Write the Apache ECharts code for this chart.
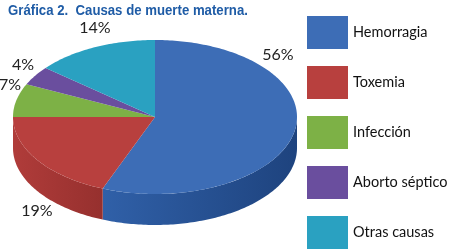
<!DOCTYPE html>
<html>
<head>
<meta charset="utf-8">
<script src="https://cdn.jsdelivr.net/npm/echarts@6/dist/echarts.min.js"></script>
<style>
  html, body { margin: 0; padding: 0; background: #fff; }
  #chart { width: 450px; height: 252px; }
</style>
</head>
<body>
<div id="chart"></div>
<script>
  // datos de la gráfica
  const categories = ['Hemorragia', 'Toxemia', 'Infección', 'Aborto séptico', 'Otras causas'];
  const percents = [56, 19, 7, 4, 14];

  // estilos
  const topColors = ['#3D6DB6', '#B8403E', '#7DB146', '#6A4E9E', '#2AA1C1'];
  const sideColors = [['#3060A8', '#1E437E'], ['#B03C3A', '#96302E'], ['#6C9A3A', '#5C8530'], ['#594088', '#4A3472'], ['#2289A6', '#1B7088']];
  const labelPos = [[278, 55], [37, 211], [10, 85], [23, 65], [95, 28]];
  const CX = 155, CY = 117, RX = 142, RY = 77, DEPTH = 31;

  const total = percents.reduce((a, b) => a + b, 0);

  function pt(deg, dy) {
    const r = deg * Math.PI / 180;
    return [CX + RX * Math.cos(r), CY - RY * Math.sin(r) + (dy || 0)];
  }
  function arc(from, to, dy) {
    const pts = [];
    const n = Math.max(2, Math.ceil(Math.abs(to - from)));
    for (let k = 0; k <= n; k++) pts.push(pt(from + (to - from) * k / n, dy));
    return pts;
  }

  function renderItem(params, api) {
    const i = params.seriesIndex;
    const v = api.value(0);
    let cum = 0;
    for (let k = 0; k < i; k++) cum += percents[k];
    const t0 = 90 - 360 * cum / total;
    const t1 = 90 - 360 * (cum + v) / total;
    const children = [];

    // cara lateral (sólo la mitad frontal)
    const lo = Math.max(t1, -180), hi = Math.min(t0, 0);
    if (lo < hi) {
      const top = arc(hi, lo, 0);
      const bottom = arc(lo, hi, DEPTH);
      children.push({
        type: 'polygon',
        z2: 1,
        shape: { points: top.concat(bottom) },
        style: {
          fill: new echarts.graphic.LinearGradient(0, 0, 1, 0, [
            { offset: 0, color: sideColors[i][0] },
            { offset: 1, color: sideColors[i][1] }
          ])
        }
      });
    }

    // cara superior
    children.push({
      type: 'polygon',
      z2: 10,
      shape: { points: [[CX, CY]].concat(arc(t0, t1, 0)) },
      style: { fill: topColors[i] }
    });

    children.push({
      type: 'text',
      z2: 20,
      style: {
        x: labelPos[i][0], y: labelPos[i][1],
        text: v + '%',
        fill: '#222',
        font: '16px Lato',
        align: 'center', verticalAlign: 'middle'
      }
    });
    return { type: 'group', children: children };
  }

  const chart = echarts.init(document.getElementById('chart'));
  chart.setOption({
    animation: false,
    graphic: [{
      type: 'text',
      left: 8, top: 3,
      scaleX: 0.88,
      style: {
        text: 'Gráfica 2.  Causas de muerte materna.',
        font: 'bold 15px "Liberation Sans"',
        fill: '#1F5CA6'
      }
    }],
    legend: {
      orient: 'vertical',
      left: 307, top: 16,
      padding: 0,
      icon: 'rect',
      itemWidth: 41, itemHeight: 33, itemGap: 17,
      data: categories,
      textStyle: { fontFamily: 'Lato', fontSize: 14.5, color: '#111' }
    },
    series: categories.map((name, i) => ({
      type: 'custom',
      name: name,
      coordinateSystem: 'none',
      itemStyle: { color: topColors[i] },
      renderItem: renderItem,
      data: [[percents[i]]]
    }))
  });
</script>
</body>
</html>
